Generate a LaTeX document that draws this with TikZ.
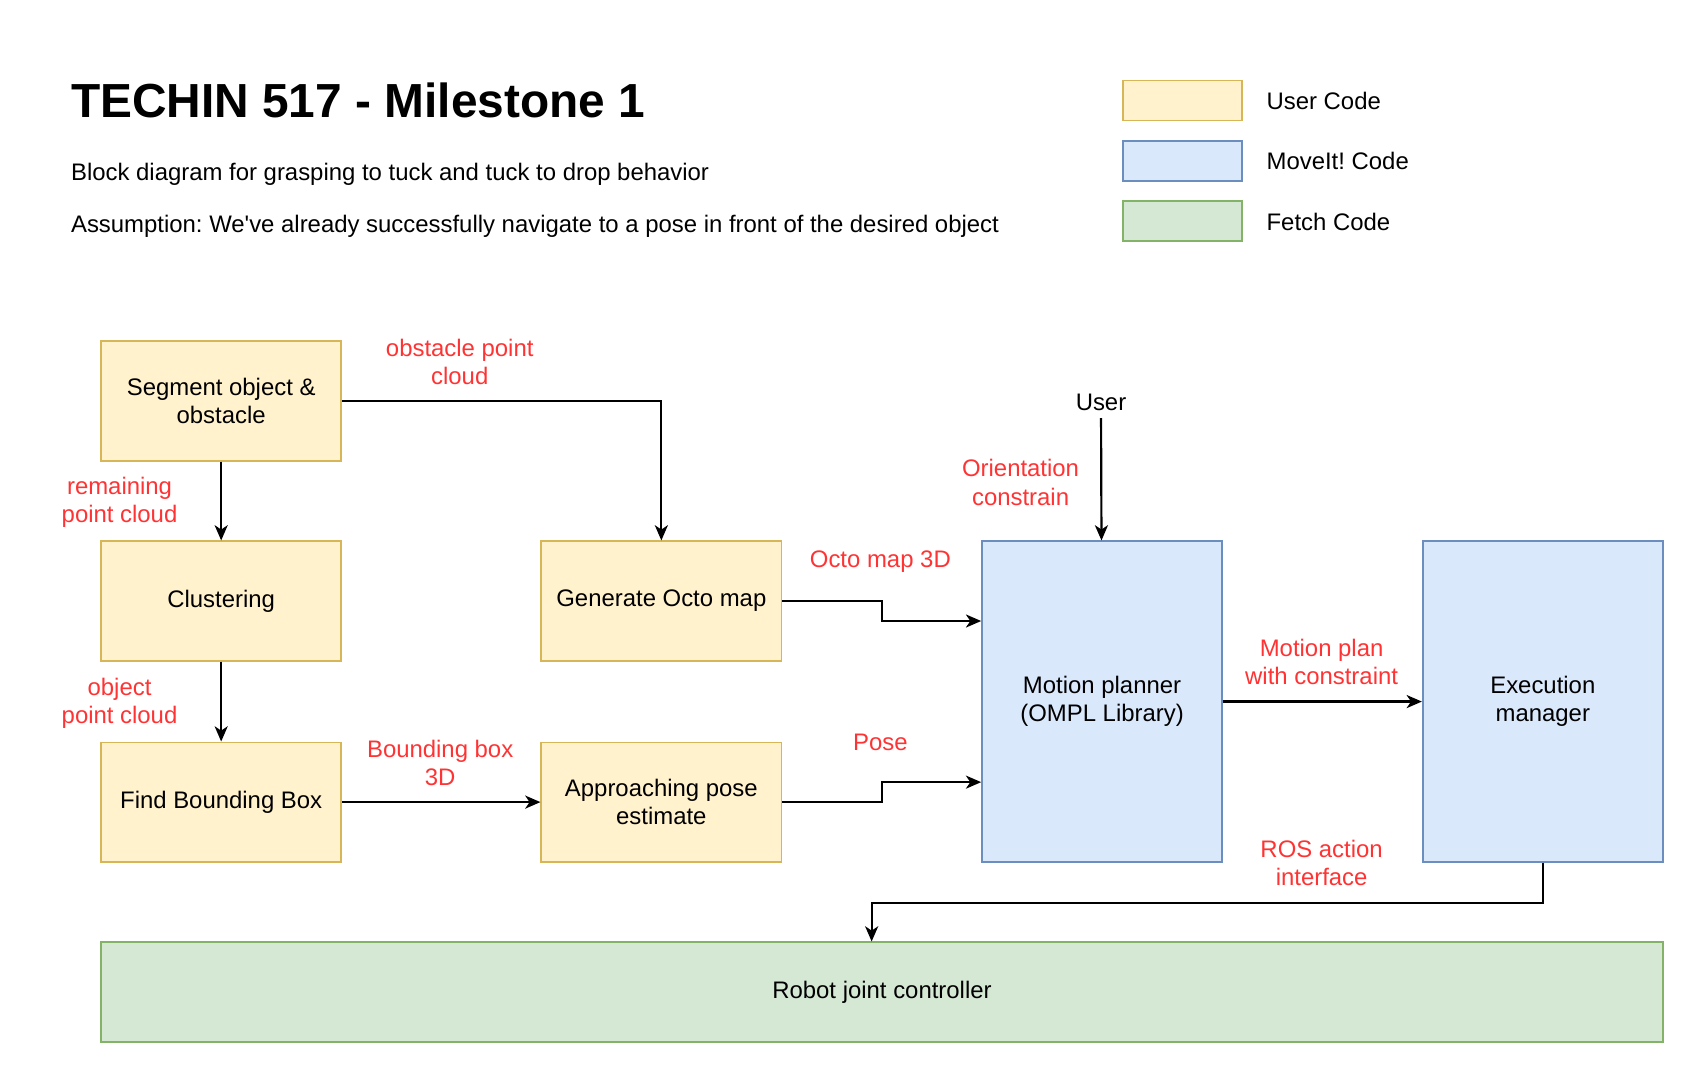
\documentclass[tikz,border=0pt]{standalone}
\usepackage{fontspec}
\setmainfont{Liberation Sans}
\usetikzlibrary{arrows.meta,calc}
\definecolor{userfill}{HTML}{FFF2CC}
\definecolor{userline}{HTML}{D6B656}
\definecolor{movefill}{HTML}{DAE8FC}
\definecolor{moveline}{HTML}{6C8EBF}
\definecolor{fetchfill}{HTML}{D5E8D4}
\definecolor{fetchline}{HTML}{82B366}
\definecolor{labelred}{HTML}{FF3333}
\frenchspacing

\begin{document}
\begin{tikzpicture}[x=0.5pt,y=-0.5pt,
    every node/.style={font=\fontsize{11}{13}\selectfont, align=center},
    note/.style={anchor=west, inner sep=0pt},
    box/.style={line width=0.75pt, inner sep=0pt, minimum width=110.5pt, minimum height=55pt},
    userbox/.style={box, draw=userline, fill=userfill},
    movebox/.style={box, draw=moveline, fill=movefill, minimum height=147.5pt},
    fetchbox/.style={box, draw=fetchline, fill=fetchfill},
    legendbox/.style={minimum width=55pt, minimum height=18.5pt},
    lbl/.style={text=labelred},
    arr/.style={line width=1pt, -{Stealth[length=7pt,width=6pt,inset=2pt]}}]
    \useasboundingbox (0,0) rectangle (1566,996);
    % title and notes
    \node[note, font=\fontsize{22}{26}\selectfont\bfseries] (title) at (65,92) {TECHIN 517 - Milestone 1};
    \node[note] (sub) at (65,160) {Block diagram for grasping to tuck and tuck to drop behavior};
    \node[note] (assume) at (65,208) {Assumption: We\textquotesingle ve already successfully navigate to a pose in front of the desired object};
    % legend
    \node[userbox, legendbox] (kuser) at (1088,92.5) {};
    \node[movebox, legendbox] (kmove) at (1088,148) {};
    \node[fetchbox, legendbox] (kfetch) at (1088,203.5) {};
    \node[note] at (1165,93) {User Code};
    \node[note] at (1165,148) {MoveIt! Code};
    \node[note] at (1165,204) {Fetch Code};
    % blocks
    \node[userbox] (seg) at (203.5,369) {Segment object \&\\obstacle};
    \node[userbox] (clus) at (203.5,553) {Clustering};
    \node[userbox] (fbb) at (203.5,738) {Find Bounding Box};
    \node[userbox] (gen) at (608.5,553) {Generate Octo map};
    \node[userbox] (app) at (608.5,738) {Approaching pose\\estimate};
    \node[movebox] (mp) at (1014,645.5) {Motion planner\\(OMPL Library)};
    \node[movebox] (exe) at (1419.5,645.5) {Execution\\ manager};
    \node[fetchbox, minimum width=718.5pt, minimum height=46pt] (rjc) at (811.5,913) {Robot joint controller};
    \node (user) at (1013,370) {User};
    % connectors
    \draw[arr] (seg.east) -| (gen.north);
    \draw[arr] (seg) -- (clus);
    \draw[arr] (clus) -- (fbb);
    \draw[arr] (fbb) -- (app);
    \draw[arr] (gen.east) -- ++(92,0) |- ($(mp.north west)!0.25!(mp.south west)$);
    \draw[arr] (app.east) -- ++(92,0) |- ($(mp.north west)!0.75!(mp.south west)$);
    \draw[arr] (user) -- (mp);
    \draw[arr] (mp) -- (exe);
    \draw[arr] (exe.south) -- ++(0,37) -| ([xshift=-4.75pt]rjc.north);
    % edge labels
    \node[lbl] at (423,333) {obstacle point\\cloud};
    \node[lbl] at (110,462) {remaining\\point cloud};
    \node[lbl] at (110,647) {object\\point cloud};
    \node[lbl] at (405,702) {Bounding box\\3D};
    \node[lbl] at (810,517) {Octo map 3D};
    \node[lbl] at (810,683) {Pose};
    \node[lbl] at (939,444) {Orientation\\constrain};
    \node[lbl] at (1216,609) {Motion plan\\with constraint};
    \node[lbl] at (1216,794) {ROS action\\interface};
\end{tikzpicture}
\end{document}
